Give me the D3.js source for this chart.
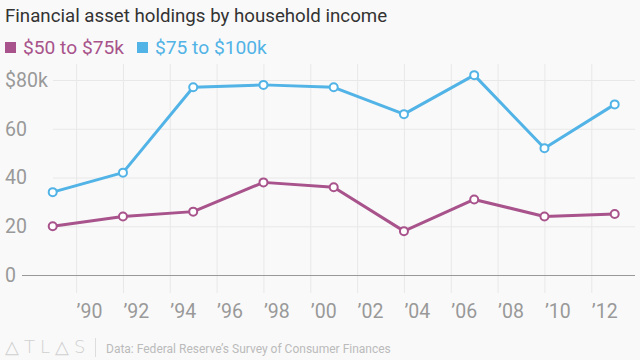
<!DOCTYPE html>
<html>
<head>
<meta charset="utf-8">
<script src="https://cdn.jsdelivr.net/npm/d3@7"></script>
<style>
  html, body { margin: 0; padding: 0; background: #f9f9f9; }
  svg { display: block; font-family: Roboto, "Noto Sans", sans-serif; }
</style>
</head>
<body>
<svg id="chart" width="640" height="360"></svg>
<script>
const years = [1989, 1992, 1995, 1998, 2001, 2004, 2007, 2010, 2013];
const series50to75 = [20, 24, 26, 38, 36, 18, 31, 24, 25];
const series75to100 = [34, 42, 77, 78, 77, 66, 82, 52, 70];
const seriesNames = ["$50 to $75k", "$75 to $100k"];
const seriesColors = ["#a8538b", "#51b3e6"];
const yTicks = [0, 20, 40, 60, 80];
const xTicks = [1990, 1992, 1994, 1996, 1998, 2000, 2002, 2004, 2006, 2008, 2010, 2012];

const svg = d3.select("#chart");

const x = d3.scaleLinear().domain([1989, 2013]).range([52.7, 614.7]);
const y = d3.scaleLinear().domain([0, 80]).range([275, 80]);
const plotRight = 635;

// Title
svg.append("text")
  .attr("x", 5).attr("y", 22)
  .attr("font-size", 18.7)
  .attr("fill", "#333")
  .text("Financial asset holdings by household income");

// Legend
const legend = svg.append("g");
const legendX = [5, 137];
seriesNames.forEach((name, i) => {
  legend.append("rect")
    .attr("x", legendX[i]).attr("y", 42)
    .attr("width", 11).attr("height", 11)
    .attr("fill", seriesColors[i]);
  legend.append("text")
    .attr("x", legendX[i] + 18).attr("y", 54)
    .attr("font-size", 19.2)
    .attr("fill", seriesColors[i])
    .text(name);
});

// Vertical gridlines
const xGrid = svg.append("g")
  .attr("transform", "translate(0,293)")
  .call(d3.axisBottom(x).tickValues(xTicks).tickSize(-(293 - 64)).tickFormat(""));
xGrid.select(".domain").remove();
xGrid.selectAll(".tick line").attr("stroke", "#e8e8e8").attr("stroke-width", 1);

// Horizontal gridlines
const yGrid = svg.append("g")
  .attr("transform", `translate(${plotRight},0)`)
  .call(d3.axisLeft(y).tickValues(yTicks).tickSize(plotRight - 53).tickFormat(""));
yGrid.select(".domain").remove();
yGrid.selectAll(".tick line").attr("stroke", "#e8e8e8").attr("stroke-width", 1);
yGrid.selectAll(".tick").filter(d => d === 0).select("line")
  .attr("x2", -(plotRight - 22)).attr("stroke", "#999");

// Y labels
const yAxis = svg.append("g")
  .attr("transform", "translate(5,0)")
  .call(d3.axisRight(y).tickValues(yTicks).tickSize(0)
    .tickFormat(d => d === 80 ? "$80k" : d));
yAxis.select(".domain").remove();
yAxis.selectAll("text")
  .attr("x", 0)
  .attr("font-size", 19.5)
  .attr("font-family", "Roboto, sans-serif")
  .attr("fill", "#999")
  .attr("text-anchor", "start");

// X labels
const xAxis = svg.append("g")
  .attr("transform", "translate(0,318)")
  .call(d3.axisBottom(x).tickValues(xTicks).tickSize(0)
    .tickFormat(d => "\u2019" + String(d).slice(2)));
xAxis.select(".domain").remove();
xAxis.selectAll("text")
  .attr("y", 0).attr("dy", 0)
  .attr("x", 0)
  .attr("font-size", 19.5)
  .attr("font-family", "Roboto, sans-serif")
  .attr("fill", "#999")
  .attr("text-anchor", "start");

// Lines
const allSeries = [series50to75, series75to100];
const line = d3.line().x((d, i) => x(years[i])).y(d => y(d));
allSeries.forEach((vals, si) => {
  svg.append("path")
    .datum(vals)
    .attr("d", line)
    .attr("fill", "none")
    .attr("stroke", seriesColors[si])
    .attr("stroke-width", 3)
    .attr("stroke-linejoin", "round");
  svg.append("g").selectAll("circle")
    .data(vals)
    .join("circle")
    .attr("cx", (d, i) => x(years[i]))
    .attr("cy", d => y(d))
    .attr("r", 4)
    .attr("fill", "#fff")
    .attr("stroke", seriesColors[si])
    .attr("stroke-width", 2);
});

// Footer
svg.append("text")
  .attr("x", 5).attr("y", 353)
  .attr("font-size", 18)
  .attr("font-family", "DejaVu Sans, sans-serif")
  .attr("font-weight", 200)
  .attr("letter-spacing", 5)
  .attr("fill", "#d0d0d0")
  .text("\u25B3TL\u25B3S");
svg.append("line")
  .attr("x1", 95.5).attr("x2", 95.5)
  .attr("y1", 338).attr("y2", 357)
  .attr("stroke", "#ddd");
svg.append("text")
  .attr("x", 106).attr("y", 353)
  .attr("font-size", 12)
  .attr("fill", "#bbb")
  .text("Data: Federal Reserve\u2019s Survey of Consumer Finances");
</script>
</body>
</html>
